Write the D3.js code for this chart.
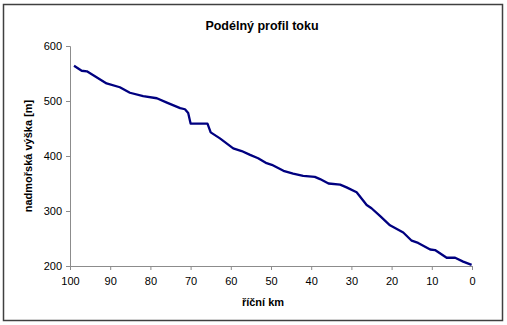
<!DOCTYPE html>
<html>
<head>
<meta charset="utf-8">
<script src="https://cdn.jsdelivr.net/npm/d3@7"></script>
<style>
  html, body { margin: 0; padding: 0; background: #fff; }
  svg { display: block; }
  text { font-family: "Liberation Sans", Arial, sans-serif; }
</style>
</head>
<body>
<svg id="chart" width="507" height="325"></svg>
<script>
// Longitudinal river profile: river kilometre vs. elevation (m a.s.l.)
const riverKm = [99.0, 97.1, 95.8, 94.2, 90.9, 87.6, 85.1, 81.8, 78.4, 75.9,
  72.6, 71.4, 70.6, 70.0, 65.8, 65.0, 62.7, 59.4, 57.3, 55.2,
  53.2, 51.1, 49.8, 46.9, 44.5, 42.0, 39.1, 37.8, 35.7, 32.8,
  31.2, 28.7, 26.2, 25.0, 22.9, 20.4, 17.1, 15.0, 13.4, 10.4,
  9.2, 6.3, 4.2, 2.2, 0.1];
const elevation = [564, 555, 554, 547, 532, 525, 515, 509, 505, 497,
  487, 485, 478, 459, 459, 443, 432, 414, 409, 402,
  396, 387, 384, 373, 368, 364, 362, 358, 350, 348,
  343, 334, 311, 305, 291, 274, 261, 246, 242, 230,
  229, 215, 215, 208, 202];
const xTicks = [100, 90, 80, 70, 60, 50, 40, 30, 20, 10, 0];
const yTicks = [200, 300, 400, 500, 600];

const svg = d3.select("#chart");

// outer chart frame
svg.append("rect")
  .attr("x", 3.5).attr("y", 4.5)
  .attr("width", 499).attr("height", 316)
  .attr("fill", "#fff")
  .attr("stroke", "#404040")
  .attr("stroke-width", 1.5);

const plot = { left: 70, right: 472, top: 46, bottom: 266 };

const x = d3.scaleLinear().domain([100, 0]).range([plot.left, plot.right]);
const y = d3.scaleLinear().domain([200, 600]).range([plot.bottom, plot.top]);

const axisColor = "#8c8c8c";

// y axis
const gy = svg.append("g")
  .attr("transform", `translate(${plot.left},0)`)
  .call(d3.axisLeft(y).tickValues(yTicks).tickSize(4).tickPadding(4));
gy.select(".domain").attr("stroke", axisColor);
gy.selectAll(".tick line").attr("stroke", axisColor);
gy.selectAll(".tick text")
  .attr("font-size", 11)
  .attr("fill", "#000")
  .style("font-family", "'Liberation Sans', Arial, sans-serif");

// x axis
const gx = svg.append("g")
  .attr("transform", `translate(0,${plot.bottom})`)
  .call(d3.axisBottom(x).tickValues(xTicks).tickSize(4).tickPadding(7));
gx.select(".domain").attr("stroke", axisColor);
gx.selectAll(".tick line").attr("stroke", axisColor);
gx.selectAll(".tick text")
  .attr("font-size", 11)
  .attr("fill", "#000")
  .style("font-family", "'Liberation Sans', Arial, sans-serif");

// profile line
const data = riverKm.map((k, i) => ({ km: k, h: elevation[i] }));
svg.append("path")
  .datum(data)
  .attr("fill", "none")
  .attr("stroke", "#000080")
  .attr("stroke-width", 2.3)
  .attr("stroke-linejoin", "round")
  .attr("d", d3.line().x(d => x(d.km)).y(d => y(d.h)));

// title
svg.append("text")
  .attr("x", 262).attr("y", 30)
  .attr("text-anchor", "middle")
  .attr("font-size", 12.5)
  .attr("font-weight", "bold")
  .text("Podélný profil toku");

// x axis title
svg.append("text")
  .attr("x", 263).attr("y", 306)
  .attr("text-anchor", "middle")
  .attr("font-size", 11)
  .attr("font-weight", "bold")
  .text("říční km");

// y axis title
svg.append("text")
  .attr("transform", "translate(32,156) rotate(-90)")
  .attr("text-anchor", "middle")
  .attr("font-size", 11)
  .attr("font-weight", "bold")
  .text("nadmořská výška [m]");
</script>
</body>
</html>
